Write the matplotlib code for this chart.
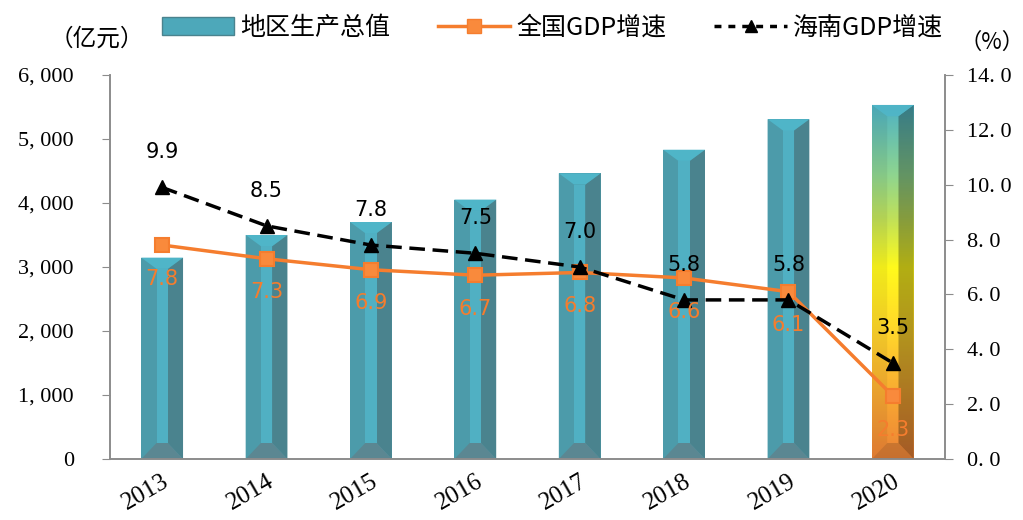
import matplotlib
matplotlib.use('Agg')
import matplotlib.pyplot as plt
import numpy as np
from matplotlib.patches import Polygon, Patch
from matplotlib.lines import Line2D
from matplotlib.colors import LinearSegmentedColormap

plt.rcParams['font.family'] = ['Noto Sans CJK SC', 'DejaVu Sans']

years = ['2013', '2014', '2015', '2016', '2017', '2018', '2019', '2020']
gdp = [3146, 3500, 3703, 4053, 4463, 4832, 5309, 5532]
china_growth = [7.8, 7.3, 6.9, 6.7, 6.8, 6.6, 6.1, 2.3]
hainan_growth = [9.9, 8.5, 7.8, 7.5, 7.0, 5.8, 5.8, 3.5]
left_ticks = [0, 1000, 2000, 3000, 4000, 5000, 6000]
right_ticks = [0, 2, 4, 6, 8, 10, 12, 14]

serif = 'Liberation Serif'
orange = '#F57D2E'

fig = plt.figure(figsize=(10.23, 5.2), dpi=100)
ax = fig.add_axes([0.1075, 0.1173, 0.8163, 0.7385])
ax2 = ax.twinx()
ax.set_zorder(1)
ax2.set_zorder(2)
ax2.patch.set_visible(False)

x = np.arange(len(years))
bars = ax.bar(x, gdp, width=0.4, color='#4C9BAA', zorder=1)
ax.set_xlim(-0.5, len(years) - 0.5)
ax.set_ylim(0, 6000)

# bevel faces for each bar
bt = 175   # top bevel depth
bb = 250   # bottom bevel depth
for i, b in enumerate(bars):
    x0 = b.get_x()
    w = b.get_width()
    v = b.get_height()
    c = x0 + w / 2
    h = w / 2
    ih = h * 0.27
    faces = {
        'left': [(c - h, 0), (c - ih, bb), (c - ih, v - bt), (c - h, v)],
        'right': [(c + h, 0), (c + h, v), (c + ih, v - bt), (c + ih, bb)],
        'center': [(c - ih, bb), (c + ih, bb), (c + ih, v - bt), (c - ih, v - bt)],
        'top': [(c - h, v), (c + h, v), (c + ih, v - bt), (c - ih, v - bt)],
        'bottom': [(c - h, 0), (c + h, 0), (c + ih, bb), (c - ih, bb)],
    }
    if i < len(bars) - 1:
        cols = {'left': '#4C9BAA', 'right': '#4A838E', 'center': '#50B0C3',
                'top': '#4FB5C8', 'bottom': '#5B8792'}
        for k, pts in faces.items():
            ax.add_patch(Polygon(pts, closed=True, facecolor=cols[k], edgecolor='none', zorder=2))
    else:
        b.set_visible(False)
        cmap = LinearSegmentedColormap.from_list('grad', [
            (0.0, '#EC8236'), (0.18, '#F8AA32'), (0.34, '#FFD22C'),
            (0.54, '#FFFA1C'), (0.68, '#BFE05A'), (0.80, '#8FD58F'),
            (1.0, '#4EB2C4')])
        grad = np.linspace(0, 1, 256).reshape(-1, 1)
        im = ax.imshow(grad, cmap=cmap, origin='lower', aspect='auto',
                       extent=(c - h, c + h, 0, v), zorder=2)
        clip = Polygon([(c - h, 0), (c + h, 0), (c + h, v), (c - h, v)], closed=True,
                       transform=ax.transData, facecolor='none', edgecolor='none')
        im.set_clip_path(clip)
        shade = {'left': ('black', 0.06), 'right': ('black', 0.30), 'center': ('white', 0.0),
                 'top': ('#4FB5C8', 0.85), 'bottom': ('#6A4020', 0.28)}
        for k, pts in faces.items():
            col, a = shade[k]
            ax.add_patch(Polygon(pts, closed=True, facecolor=col, alpha=a, edgecolor='none', zorder=3))

ax.set_xlim(-0.5, len(years) - 0.5)
ax.set_ylim(0, 6000)

ax2.set_ylim(0, 14)
ax2.plot(x, china_growth, color=orange, lw=2.5, marker='s', ms=10.5,
         mfc='#F98A3C', mec=orange, mew=1.5, zorder=5)
ax2.plot(x, hainan_growth, color='black', lw=2.5, ls=(0, (4.5, 2.2)), marker='^', ms=10.5,
         mfc='black', mec='black', zorder=6)

for xi, val in zip(x, hainan_growth):
    ax2.annotate(f'{val:.1f}', (xi, val), xytext=(0, 18), textcoords='offset points',
                 ha='center', va='bottom', fontsize=15, color='black', family='DejaVu Sans', zorder=7)
for xi, val in zip(x, china_growth):
    ax2.annotate(f'{val:.1f}', (xi, val), xytext=(0, -17), textcoords='offset points',
                 ha='center', va='top', fontsize=15, color=orange, family='DejaVu Sans', zorder=7)

# axes styling
for a in (ax, ax2):
    a.spines['top'].set_visible(False)
    for s in ('left', 'right', 'bottom'):
        a.spines[s].set_color('#8C8C8C')
        a.spines[s].set_linewidth(1.2)

ax.set_yticks(left_ticks)
ax.set_yticklabels([f'{t:,}'.replace(',', ', ') for t in left_ticks], family=serif, fontsize=16)
ax.tick_params(axis='y', direction='out', length=6, color='#8C8C8C', pad=20)
ax2.set_yticks(right_ticks)
ax2.set_yticklabels([f'{t:.1f}'.replace('.', '. ') for t in right_ticks], family=serif, fontsize=16)
ax2.tick_params(axis='y', direction='out', length=6, color='#8C8C8C', pad=10)

ax.set_xticks(x)
ax.set_xticklabels(years, rotation=30, ha='right', rotation_mode='anchor', family=serif, fontsize=18)
ax.tick_params(axis='x', length=0, pad=8)

fig.text(0.048, 0.925, '（亿元）', fontsize=17, ha='left', va='center')
fig.text(0.938, 0.918, '（%）', fontsize=16, ha='left', va='center')

handles = [
    Patch(facecolor='#4DA8BA', edgecolor='#4A838E'),
    Line2D([], [], color=orange, lw=2.5, marker='s', ms=10.5, mfc='#F98A3C', mec=orange),
    Line2D([], [], color='black', lw=2.5, ls=(0, (2, 2)), marker='^', ms=9, mfc='black'),
]
labels = ['地区生产总值', '全国GDP增速', '海南GDP增速']
fig.legend(handles, labels, loc='upper center', bbox_to_anchor=(0.54, 1.015), ncol=3,
           frameon=False, fontsize=18, handlelength=2.9, handletextpad=0.25, columnspacing=1.9)

fig.savefig('out.png', dpi=100)
